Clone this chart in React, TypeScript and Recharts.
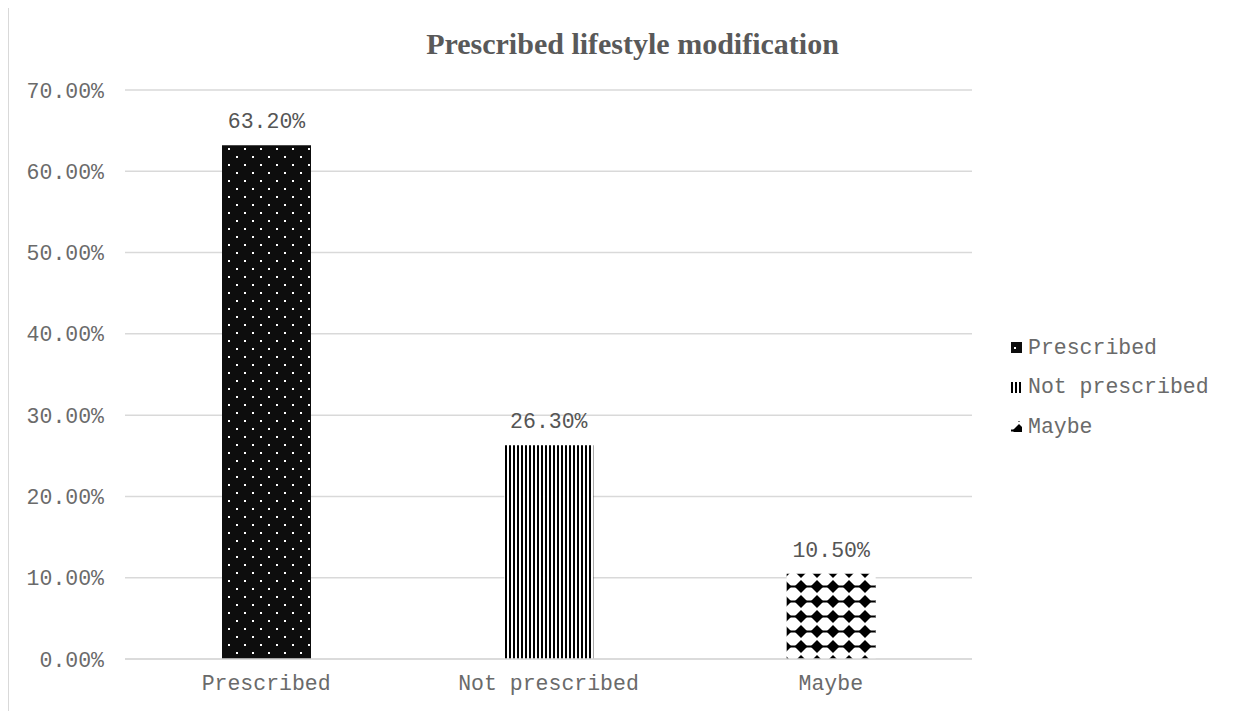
import { BarChart, Bar, XAxis, YAxis, CartesianGrid, LabelList, Cell } from 'recharts'

const categories = ['Prescribed', 'Not prescribed', 'Maybe']
const shares = [63.2, 26.3, 10.5]
const yTicks = [0, 10, 20, 30, 40, 50, 60, 70]
const patternIds = ['pat-dots', 'pat-vert', 'pat-dmnd']

const chartData = categories.map((name, i) => ({ name, value: shares[i] }))

const MONO = '"Liberation Mono", "Courier New", monospace'
const TEXT_GREY = '#6a6a6a'

function Patterns({ prefix = '' }: { prefix?: string }) {
  return (
    <defs>
      <pattern id={prefix + 'pat-dots'} patternUnits="userSpaceOnUse" width={16} height={16}>
        <rect width={16} height={16} fill="#0d0d0d" />
        <rect x={3} y={5} width={2} height={2} fill="#ffffff" />
        <rect x={11} y={13} width={2} height={2} fill="#ffffff" />
      </pattern>
      <pattern id={prefix + 'pat-vert'} patternUnits="userSpaceOnUse" width={4} height={4}>
        <rect width={4} height={4} fill="#ffffff" />
        <rect x={0} y={0} width={2} height={4} fill="#000000" />
      </pattern>
      <pattern id={prefix + 'pat-dmnd'} patternUnits="userSpaceOnUse" width={16} height={15} y={2}>
        <rect width={16} height={15} fill="#ffffff" />
        <rect x={0} y={6.5} width={16} height={2} fill="#000000" />
        <polygon points="8,1 14.5,7.5 8,14 1.5,7.5" fill="#000000" />
      </pattern>
    </defs>
  )
}

function LegendMarker({ id }: { id: string }) {
  return (
    <svg width={11} height={11} style={{ display: 'block' }}>
      <Patterns prefix="lg-" />
      <rect width={11} height={11} fill={`url(#lg-${id})`} />
    </svg>
  )
}

export default function App() {
  return (
    <div
      style={{
        position: 'relative',
        width: 1249,
        height: 712,
        marginTop: -2,
        border: '1px solid #d9d9d9',
        boxSizing: 'border-box',
        background: '#ffffff',
      }}
    >
      <div
        style={{
          position: 'absolute',
          left: 0,
          top: 22,
          width: '100%',
          textAlign: 'center',
          fontFamily: '"Liberation Serif", "Times New Roman", serif',
          fontWeight: 'bold',
          fontSize: 30,
          lineHeight: 1,
          color: '#595959',
        }}
      >
        Prescribed lifestyle modification
      </div>

      <BarChart
        width={1247}
        height={704}
        data={chartData}
        margin={{ top: 83, right: 284, left: 0, bottom: 22 }}
      >
        <Patterns />
        <CartesianGrid vertical={false} stroke="#d9d9d9" strokeWidth={1.5} />
        <XAxis
          dataKey="name"
          height={30}
          axisLine={{ stroke: '#d9d9d9', strokeWidth: 1.5 }}
          tickLine={false}
          tickSize={0}
          tickMargin={16}
          tick={{ fontFamily: MONO, fontSize: 21.5, fill: TEXT_GREY }}
        />
        <YAxis
          width={116}
          domain={[0, 70]}
          ticks={yTicks}
          axisLine={false}
          tickLine={false}
          tickSize={0}
          tickMargin={21}
          tick={{ fontFamily: MONO, fontSize: 21.5, fill: TEXT_GREY }}
          tickFormatter={(v: number) => `${v.toFixed(2)}%`}
        />
        <Bar dataKey="value" barSize={89} isAnimationActive={false}>
          {chartData.map((d, i) => (
            <Cell key={d.name} fill={`url(#${patternIds[i]})`} />
          ))}
          <LabelList
            dataKey="value"
            position="top"
            offset={17}
            formatter={(v: number) => `${v.toFixed(2)}%`}
            style={{ fontFamily: MONO, fontSize: 21.5, fill: '#555555' }}
          />
        </Bar>
      </BarChart>

      <div style={{ position: 'absolute', left: 1002, top: 321 }}>
        {categories.map((name, i) => (
          <div
            key={name}
            style={{
              display: 'flex',
              alignItems: 'center',
              height: 39.5,
              fontFamily: MONO,
              fontSize: 21.5,
              color: TEXT_GREY,
              whiteSpace: 'nowrap',
            }}
          >
            <LegendMarker id={patternIds[i]} />
            <span style={{ marginLeft: 6 }}>{name}</span>
          </div>
        ))}
      </div>
    </div>
  )
}
